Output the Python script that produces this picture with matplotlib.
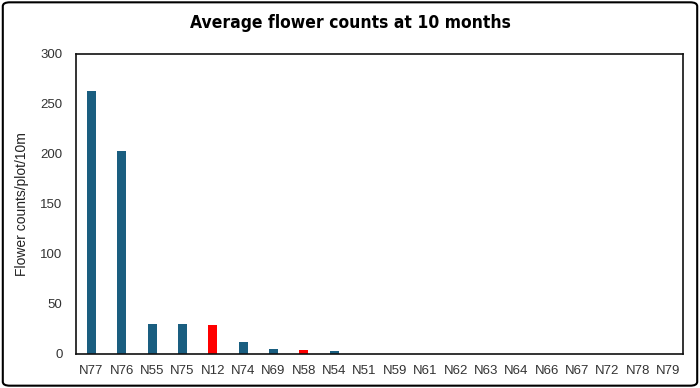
#!/usr/bin/env python3
import matplotlib; matplotlib.use('Agg')  # noqa
import matplotlib.pyplot as plt
from matplotlib.patches import FancyBboxPatch

plots = ['N77', 'N76', 'N55', 'N75', 'N12', 'N74', 'N69', 'N58', 'N54',
         'N51', 'N59', 'N61', 'N62', 'N63', 'N64', 'N66', 'N67', 'N72',
         'N78', 'N79']
flowers = [263, 203, 30, 30, 29, 12, 5, 4, 2.5,
           0, 0, 0, 0, 0, 0, 0, 0, 0, 0, 0]
highlight = ['N12', 'N58']

plt.rcParams['font.family'] = ['Liberation Sans', 'DejaVu Sans']

fig = plt.figure(figsize=(7, 3.88), dpi=100)
ax = fig.add_axes([0.109, 0.088, 0.867, 0.774])

colors = ['#ff0000' if p in highlight else '#1a5e80' for p in plots]
ax.bar(range(len(plots)), flowers, width=0.3, color=colors, zorder=2)

ax.set_xlim(-0.5, len(plots) - 0.5)
ax.set_ylim(0, 300)
ax.set_yticks([0, 50, 100, 150, 200, 250, 300])
ax.set_xticks(range(len(plots)))
ax.set_xticklabels(plots)
ax.tick_params(axis='both', length=0, labelsize=9.5, colors='#333333')
ax.tick_params(axis='x', pad=8)
ax.tick_params(axis='y', pad=10)
for s in ax.spines.values():
    s.set_linewidth(1.2)
    s.set_color('#111111')

ax.set_ylabel('Flower counts/plot/10m', fontsize=10, labelpad=8,
              color='#222222')

fig.text(0.5, 0.94, 'Average flower counts at 10 months',
         ha='center', va='center', fontsize=12.5, fontweight='bold',
         fontstretch='condensed',
         family=['DejaVu Sans', 'Liberation Sans'])

# outer rounded border
fig.patches.append(FancyBboxPatch(
    (0.004, 0.006), 0.992, 0.988, boxstyle='round,pad=0,rounding_size=0.01',
    transform=fig.transFigure, fill=False, linewidth=1.5, edgecolor='black'))

fig.savefig('out.png', dpi=100)
